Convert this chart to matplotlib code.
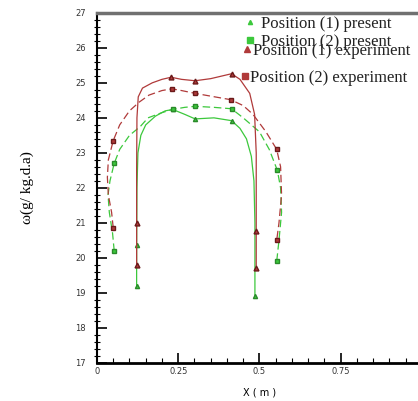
import matplotlib.pyplot as plt
from matplotlib.ticker import MultipleLocator, FixedLocator

# Position (1) experiment - solid red
p1_exp_x = [0.122, 0.122, 0.122, 0.123, 0.127, 0.14, 0.17, 0.20, 0.228, 0.26, 0.302,
            0.35, 0.414, 0.44, 0.47, 0.485, 0.49, 0.49, 0.49]
p1_exp_y = [19.8, 21.0, 22.5, 24.0, 24.6, 24.85, 25.0, 25.1, 25.16, 25.1, 25.06,
            25.12, 25.26, 25.1, 24.7, 24.1, 23.0, 20.78, 19.7]
p1_exp_marks = [0, 1, 8, 10, 12, 17, 18]

# Position (1) present - solid green
p1_pre_x = [0.122, 0.122, 0.123, 0.126, 0.135, 0.15, 0.18, 0.21, 0.233, 0.27, 0.302,
            0.36, 0.414, 0.44, 0.46, 0.475, 0.483, 0.486, 0.486]
p1_pre_y = [19.2, 20.38, 22.0, 23.0, 23.5, 23.8, 24.05, 24.2, 24.24, 24.1, 23.97,
            24.0, 23.92, 23.7, 23.4, 22.9, 22.2, 21.0, 18.92]
p1_pre_marks = [0, 1, 8, 10, 12, 18]

# Position (2) experiment - dashed red
p2_exp_x = [0.05, 0.045, 0.035, 0.032, 0.035, 0.05, 0.07, 0.1, 0.13, 0.16, 0.2, 0.23,
            0.26, 0.302, 0.35, 0.411, 0.45, 0.48, 0.52, 0.553, 0.565, 0.568, 0.56, 0.553]
p2_exp_y = [20.86, 21.3, 21.8, 22.3, 22.8, 23.35, 23.8, 24.2, 24.45, 24.65, 24.78, 24.83,
            24.78, 24.7, 24.62, 24.52, 24.35, 24.1, 23.6, 23.1, 22.6, 21.8, 21.0, 20.5]
p2_exp_marks = [0, 5, 11, 13, 15, 19, 23]

# Position (2) present - dashed green
p2_pre_x = [0.053, 0.048, 0.038, 0.034, 0.04, 0.053, 0.07, 0.1, 0.133, 0.157, 0.2, 0.233,
            0.27, 0.302, 0.36, 0.414, 0.45, 0.5, 0.53, 0.555, 0.565, 0.568, 0.56, 0.553]
p2_pre_y = [20.2, 20.7, 21.3, 21.8, 22.2, 22.7, 23.1, 23.5, 23.75, 24.0, 24.15, 24.24,
            24.3, 24.33, 24.3, 24.26, 24.0, 23.6, 23.1, 22.5, 22.0, 21.3, 20.5, 19.9]
p2_pre_marks = [0, 5, 11, 13, 15, 19, 23]

x_ticks = [0, 0.25, 0.5, 0.75]
x_tick_labels = ["0", "0.25", "0.5", "0.75"]
legend_labels = ["Position (1) present", "Position (2) present",
                 "Position (1) experiment", "Position (2) experiment"]

red = "#b03a3a"
green = "#3cc83c"

fig = plt.figure(figsize=(4.18, 4.01), dpi=100)
ax = fig.add_axes([0.232, 0.095, 0.7775, 0.873])

ax.plot(p1_pre_x, p1_pre_y, "-", color=green, lw=0.9, marker="^", ms=3,
        markevery=p1_pre_marks, mfc=green, mec="#2a8a2a")
ax.plot(p2_pre_x, p2_pre_y, "--", color=green, lw=0.9, dashes=(6, 3), marker="s", ms=2.5,
        markevery=p2_pre_marks, mfc=green, mec="#2a8a2a")
ax.plot(p1_exp_x, p1_exp_y, "-", color=red, lw=0.9, marker="^", ms=3.5,
        markevery=p1_exp_marks, mfc=red, mec="#6a1a1a")
ax.plot(p2_exp_x, p2_exp_y, "--", color=red, lw=0.9, dashes=(6, 3), marker="s", ms=3,
        markevery=p2_exp_marks, mfc=red, mec="#6a1a1a")

ax.set_xlim(0, 1)
ax.set_ylim(17, 27)
ax.xaxis.set_major_locator(FixedLocator(x_ticks))
ax.xaxis.set_minor_locator(MultipleLocator(0.05))
ax.yaxis.set_major_locator(MultipleLocator(1))
ax.yaxis.set_minor_locator(MultipleLocator(0.2))
ax.set_xticklabels(x_tick_labels)

narrow = ["Liberation Sans Narrow", "DejaVu Sans"]
for lab in ax.get_xticklabels() + ax.get_yticklabels():
    lab.set_fontfamily(narrow)
    lab.set_fontsize(6)
    lab.set_color("#333333")

ax.tick_params(which="major", direction="in", length=7, width=1.2, pad=3)
ax.tick_params(which="minor", direction="inout", length=5, width=0.8)
ax.tick_params(axis="y", which="both", right=False, pad=8)
ax.tick_params(axis="x", which="minor", direction="in", length=3.5)
ax.tick_params(axis="x", which="both", top=False)

ax.spines["top"].set_linewidth(2.5)
ax.spines["top"].set_color("#707070")
ax.spines["bottom"].set_linewidth(2)
ax.spines["left"].set_linewidth(1.5)
ax.spines["right"].set_linewidth(1.5)

ax.set_xlabel("X ( m )", fontsize=7, family=narrow, labelpad=8)
ax.set_ylabel("ω(g/ kg.d.a)", fontsize=11, family=["Liberation Serif", "DejaVu Serif"],
              labelpad=30)

# legend, placed as free text like the original
leg_rows = [(250, 261, 24, "^", green, 3),
            (250, 261, 42, "s", green, 4),
            (247, 253, 51, "^", red, 4.5),
            (245, 250, 78, "s", red, 4)]
W, H = 418, 401
for (mx, tx, ty, mk, col, ms), text in zip(leg_rows, legend_labels):
    ax.plot([mx / W], [1 - (ty - 2) / H], marker=mk, ms=ms, color=col, ls="none",
            transform=fig.transFigure, clip_on=False)
    fig.text(tx / W, 1 - ty / H, text, fontsize=12, va="center", ha="left",
             family=["Liberation Serif", "DejaVu Serif"], color="#222222")

fig.savefig("out.png", dpi=100)
